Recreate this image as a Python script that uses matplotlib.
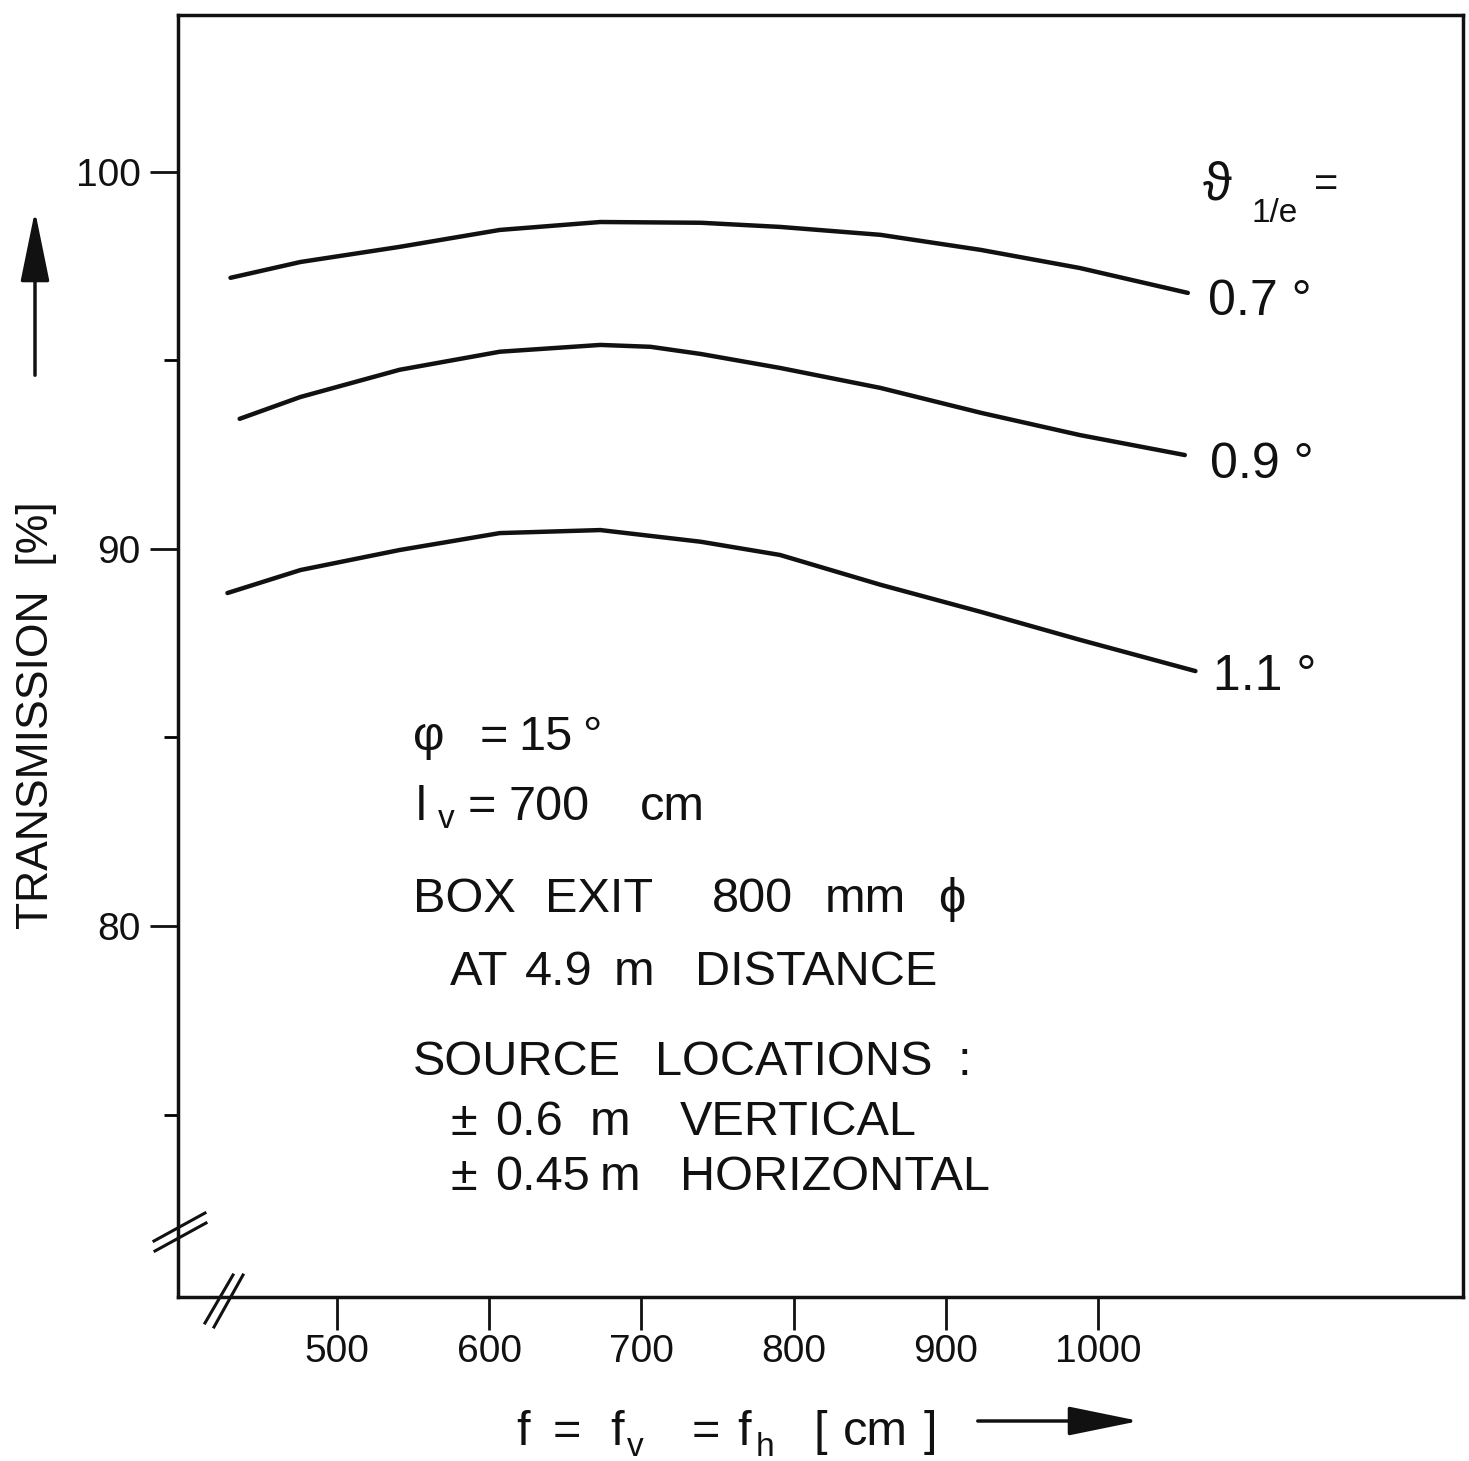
import matplotlib
matplotlib.use("Agg")
import matplotlib.pyplot as plt
from matplotlib.lines import Line2D

W, H, DPI = 1469, 1461, 100
FAM = ["Liberation Sans", "DejaVu Sans"]

# ---- data ----
f_07 = [430, 476, 541, 607, 673, 739, 791, 857, 923, 988, 1059]
t_07 = [97.19, 97.61, 98.01, 98.46, 98.67, 98.65, 98.54, 98.33, 97.93, 97.45, 96.79]
f_09 = [436, 476, 541, 607, 673, 706, 739, 791, 857, 923, 988, 1057]
t_09 = [93.45, 94.03, 94.75, 95.23, 95.41, 95.36, 95.17, 94.80, 94.27, 93.61, 93.02, 92.49]
f_11 = [428, 476, 541, 607, 673, 739, 791, 857, 923, 988, 1064]
t_11 = [88.83, 89.44, 89.97, 90.42, 90.50, 90.19, 89.84, 89.05, 88.33, 87.59, 86.76]

curve_labels = ["0.7 °", "0.9 °", "1.1 °"]
x_ticks = [500, 600, 700, 800, 900, 1000]
y_major = [80, 90, 100]
y_minor = [75, 85, 95]

fig = plt.figure(figsize=(W / DPI, H / DPI), dpi=DPI)
fig.patch.set_facecolor("white")

ax = fig.add_axes([178 / W, 1 - 1297 / H, (1463 - 178) / W, (1297 - 15) / H])
ax.set_xlim(395.5, 1239.8)
ax.set_ylim(70.16, 104.16)

for fx, ty in [(f_07, t_07), (f_09, t_09), (f_11, t_11)]:
    ax.plot(fx, ty, color="#111111", lw=3.2, solid_capstyle="round", solid_joinstyle="round")

for s in ax.spines.values():
    s.set_linewidth(2.5)
    s.set_color("#111111")

ax.set_xticks(x_ticks)
ax.set_xticklabels([str(v) for v in x_ticks], fontsize=28, family=FAM)
ax.set_yticks(y_major)
ax.set_yticklabels([str(v) for v in y_major], fontsize=28, family=FAM)
ax.set_yticks(y_minor, minor=True)
ax.tick_params(axis="x", direction="out", length=24, width=2, pad=3, colors="#111111")
ax.tick_params(axis="y", which="major", direction="out", length=20, width=2, pad=7, colors="#111111")
ax.tick_params(axis="y", which="minor", direction="out", length=10, width=2)


def T(x, y, s, size, ha="left", va="baseline", **kw):
    fig.text(x / W, 1 - y / H, s, fontsize=size, ha=ha, va=va, family=FAM, color="#111111", **kw)


# curve labels
T(1208, 315, curve_labels[0], 36)
T(1210, 478, curve_labels[1], 36)
T(1213, 690, curve_labels[2], 36)
# theta label
T(1203, 200, "ϑ", 38)
T(1252, 222, "1/e", 24)
T(1314, 196, "=", 30)

# parameter block
S = 35
pieces = [
    (413, 750, "φ"), (480, 750, "="), (518, 750, "15"), (582, 750, "°"),
    (416, 820, "l"), (468, 820, "="), (508, 820, "700"), (640, 820, "cm"),
    (413, 912, "BOX"), (545, 912, "EXIT"), (712, 912, "800"), (825, 912, "mm"), (938, 912, "ϕ"),
    (450, 985, "AT"), (525, 985, "4.9"), (614, 985, "m"), (695, 985, "DISTANCE"),
    (413, 1075, "SOURCE"), (655, 1075, "LOCATIONS"), (958, 1075, ":"),
    (450, 1135, "±"), (495, 1135, "0.6"), (590, 1135, "m"), (680, 1135, "VERTICAL"),
    (450, 1190, "±"), (495, 1190, "0.45"), (600, 1190, "m"), (680, 1190, "HORIZONTAL"),
]
for x, y, s in pieces:
    T(x, y, s, S)
T(438, 828, "v", 24)

# y axis label + arrow
fig.text(37 / W, 1 - 715 / H, "TRANSMISSION  [%]", rotation=90, fontsize=32,
         ha="center", va="center", family=FAM, color="#111111")
fig.patches.append(matplotlib.patches.FancyArrowPatch(
    (35 / W, 1 - 378 / H), (35 / W, 1 - 208 / H), transform=fig.transFigure,
    arrowstyle="-|>,head_length=2.2,head_width=0.45", mutation_scale=20,
    lw=2.5, color="#111111"))

# x axis label + arrow
T(516, 1445, "f", S)
T(553, 1445, "=", S)
T(610, 1445, "f", S)
T(627, 1456, "v", 24)
T(692, 1445, "=", S)
T(737, 1445, "f", S)
T(756, 1456, "h", 24)
T(813, 1445, "[", S)
T(843, 1445, "cm", S)
T(924, 1445, "]", S)
fig.patches.append(matplotlib.patches.FancyArrowPatch(
    (975 / W, 1 - 1421 / H), (1142 / W, 1 - 1421 / H), transform=fig.transFigure,
    arrowstyle="-|>,head_length=2.2,head_width=0.45", mutation_scale=20,
    lw=2.5, color="#111111"))

# axis break marks
def L(x0, y0, x1, y1):
    fig.add_artist(Line2D([x0 / W, x1 / W], [1 - y0 / H, 1 - y1 / H], transform=fig.transFigure,
                          color="#111111", lw=2.2))

L(154, 1241, 205, 1213)
L(155, 1251, 206, 1223)
L(205, 1323, 233, 1275)
L(214, 1327, 243, 1275)

fig.savefig("out.png", dpi=DPI, facecolor="white")
